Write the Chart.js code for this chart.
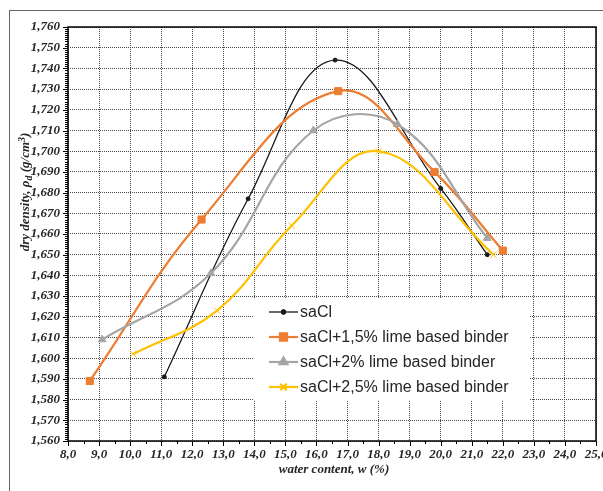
<!DOCTYPE html>
<html>
<head>
<meta charset="utf-8">
<script src="https://cdn.jsdelivr.net/npm/chart.js@4.4.1/dist/chart.umd.min.js"></script>
<style>
  html, body { margin: 0; padding: 0; background: #fff; }
  #wrap { position: relative; width: 603px; height: 491px; overflow: hidden; }
  #frame { position: absolute; left: 9px; top: 10px; width: 700px; height: 600px; border: 1px solid #666; }
  #c { position: absolute; left: 0; top: 0; }
</style>
</head>
<body>
<div id="wrap">
  <div id="frame"></div>
  <canvas id="c" width="603" height="491"></canvas>
</div>
<script>
// Data
const seriesNames = ['saCl', 'saCl+1,5% lime based binder', 'saCl+2% lime based binder', 'saCl+2,5% lime based binder'];

const saClW = [11.1, 13.8, 16.6, 20.0, 21.5];
const saClRho = [1.591, 1.677, 1.744, 1.682, 1.650];

const lime15W = [8.7, 12.3, 16.7, 19.8, 22.0];
const lime15Rho = [1.589, 1.667, 1.729, 1.690, 1.652];

const lime2W = [9.1, 12.6, 15.9, 18.6, 21.5];
const lime2Rho = [1.609, 1.641, 1.710, 1.713, 1.658];

const lime25W = [10.1, 12.8, 15.2, 18.0, 21.7];
const lime25Rho = [1.602, 1.623, 1.664, 1.700, 1.650];

const xRange = [8, 25];
const yRange = [1.56, 1.76];

const xTitle = 'water content, w (%)';

const toPoints = (xs, ys) => xs.map((x, i) => ({ x: x, y: ys[i] }));

const serifBold = 'italic bold 13px "Liberation Serif"';

// Axis titles, frame, tick marks and the legend box
const decor = {
  id: 'decor',
  beforeDatasetsDraw(chart) {
    const { ctx, chartArea: a, scales } = chart;
    ctx.save();
    ctx.strokeStyle = '#000';
    ctx.lineWidth = 1;
    // y minor ticks
    for (let k = 0; k <= 200; k++) {
      const py = Math.round(scales.y.getPixelForValue(yRange[0] + k * 0.001)) + 0.5;
      const len = k % 10 === 0 ? 5 : 3;
      ctx.beginPath();
      ctx.moveTo(a.left - len, py);
      ctx.lineTo(a.left, py);
      ctx.stroke();
    }
    // x ticks
    for (let v = xRange[0]; v <= xRange[1]; v += 0.5) {
      const px = Math.round(scales.x.getPixelForValue(v)) + 0.5;
      const len = Number.isInteger(v) ? 5 : 3;
      ctx.beginPath();
      ctx.moveTo(px, a.bottom);
      ctx.lineTo(px, a.bottom + len);
      ctx.stroke();
    }
    // frame
    ctx.lineWidth = 1.5;
    ctx.strokeRect(a.left, a.top, a.right - a.left, a.bottom - a.top);
    ctx.restore();
  },
  afterDatasetsDraw(chart) {
    const { ctx } = chart;
    ctx.save();
    ctx.fillStyle = '#fff';
    ctx.fillRect(253, 298, 276, 102);
    chart.data.datasets.forEach((ds, i) => {
      const cy = 312 + i * 25;
      ctx.strokeStyle = ds.borderColor;
      ctx.lineWidth = ds.borderWidth;
      ctx.beginPath();
      ctx.moveTo(269, cy);
      ctx.lineTo(298, cy);
      ctx.stroke();
      Chart.helpers.drawPoint(ctx, {
        pointStyle: ds.pointStyle,
        radius: ds.pointRadius,
        rotation: 0,
        borderWidth: ds.pointBorderWidth
      }, 283.5, cy);
      ctx.fillStyle = ds.pointBackgroundColor;
      ctx.strokeStyle = ds.pointBorderColor;
      ctx.lineWidth = ds.pointBorderWidth;
      ctx.fill();
      ctx.stroke();
      ctx.fillStyle = '#262626';
      ctx.font = '16px "Liberation Sans"';
      ctx.textBaseline = 'middle';
      ctx.textAlign = 'left';
      ctx.fillText(ds.label, 300, cy + 1);
    });
    ctx.restore();
  },
  afterDraw(chart) {
    const { ctx, chartArea: a } = chart;
    ctx.save();
    ctx.fillStyle = '#262626';
    ctx.font = serifBold;
    ctx.textBaseline = 'middle';
    ctx.textAlign = 'center';
    ctx.fillText(xTitle, 334, 470);

    // y title, rotated, with subscript and superscript
    ctx.translate(26, 192);
    ctx.rotate(-Math.PI / 2);
    const small = 'italic bold 10px "Liberation Serif"';
    const parts = [
      { t: 'dry density, \u03c1', f: serifBold, dy: 0 },
      { t: 'd', f: small, dy: 3 },
      { t: ' (g/cm', f: serifBold, dy: 0 },
      { t: '3', f: small, dy: -4 },
      { t: ')', f: serifBold, dy: 0 }
    ];
    let total = 0;
    parts.forEach(p => { ctx.font = p.f; p.w = ctx.measureText(p.t).width; total += p.w; });
    let x = -total / 2;
    ctx.textAlign = 'left';
    parts.forEach(p => {
      ctx.font = p.f;
      ctx.fillText(p.t, x, p.dy);
      x += p.w;
    });
    ctx.restore();
  }
};

function makeSet(label, xs, ys, color, width, style, radius, order) {
  return {
    label: label,
    data: toPoints(xs, ys),
    borderColor: color,
    borderWidth: width,
    pointStyle: style,
    pointRadius: radius,
    pointHoverRadius: radius,
    pointBackgroundColor: color,
    pointBorderColor: color,
    pointBorderWidth: 1,
    tension: 0.4,
    fill: false,
    order: order
  };
}

const noPad = s => { s.paddingLeft = 0; s.paddingRight = 0; s.paddingTop = 0; s.paddingBottom = 0; };

const tickFont = { family: 'Liberation Serif', size: 13, style: 'italic', weight: 'bold' };

new Chart(document.getElementById('c'), {
  type: 'line',
  data: {
    datasets: [
      makeSet(seriesNames[0], saClW, saClRho, '#1a1a1a', 1.3, 'circle', 2, 3),
      makeSet(seriesNames[1], lime15W, lime15Rho, '#ed7d31', 2.2, 'rect', 5, 2),
      makeSet(seriesNames[2], lime2W, lime2Rho, '#a5a5a5', 2.2, 'triangle', 4.5, 1),
      makeSet(seriesNames[3], lime25W, lime25Rho, '#ffc000', 2.2, 'crossRot', 4.5, 0)
    ]
  },
  options: {
    responsive: false,
    animation: false,
    layout: { padding: { top: 27, right: 7, left: 0, bottom: 0 } },
    plugins: {
      legend: { display: false },
      tooltip: { enabled: false }
    },
    scales: {
      x: {
        type: 'linear',
        min: xRange[0],
        max: xRange[1],
        afterFit: s => { s.height = 50; noPad(s); },
        grid: { color: '#4a4a4a', lineWidth: 1, drawTicks: false },
        border: { display: false, dash: [1, 1] },
        ticks: {
          stepSize: 1,
          autoSkip: false,
          maxRotation: 0,
          padding: 6,
          color: '#262626',
          font: tickFont,
          callback: v => v.toFixed(1).replace('.', ',')
        }
      },
      y: {
        type: 'linear',
        min: yRange[0],
        max: yRange[1],
        afterFit: s => { s.width = 68; noPad(s); },
        grid: { color: '#4a4a4a', lineWidth: 1, drawTicks: false },
        border: { display: false, dash: [1, 1] },
        ticks: {
          stepSize: 0.01,
          autoSkip: false,
          padding: 8,
          color: '#262626',
          font: tickFont,
          callback: v => v.toFixed(3).replace('.', ',')
        }
      }
    }
  },
  plugins: [decor]
});
</script>
</body>
</html>
